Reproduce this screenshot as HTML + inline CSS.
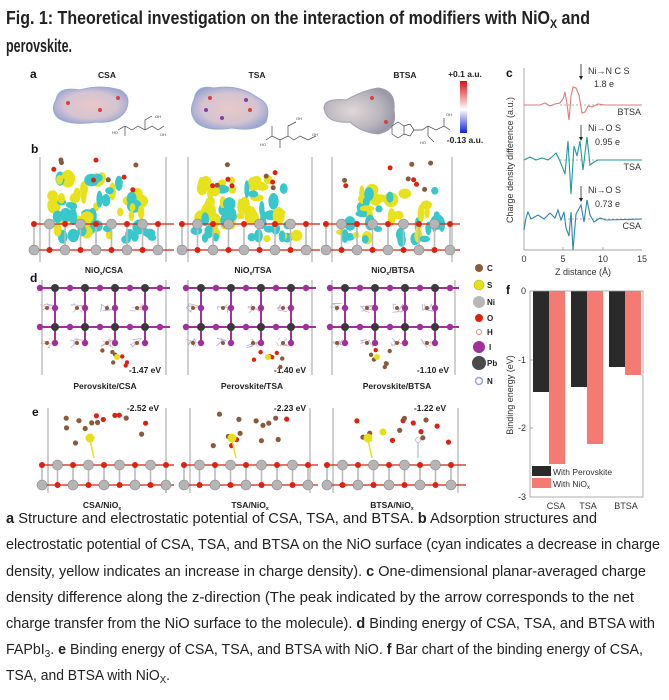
<!DOCTYPE html>
<html><head><meta charset="utf-8"><style>
html,body{margin:0;padding:0;background:#fff;width:669px;height:700px;overflow:hidden}
svg{display:block}
.t{font-family:"Liberation Sans",sans-serif}
.s{font-family:"Liberation Sans",sans-serif}
</style></head><body>
<svg id="s" width="669" height="700" viewBox="0 0 669 700" xmlns="http://www.w3.org/2000/svg">
<defs>
<linearGradient id="cb" x1="0" y1="0" x2="0" y2="1"><stop offset="0" stop-color="#e01010"/><stop offset="0.55" stop-color="#ffffff"/><stop offset="1" stop-color="#1020e0"/></linearGradient>
<radialGradient id="blob" cx="0.5" cy="0.5" r="0.6"><stop offset="0" stop-color="#e9c8c8"/><stop offset="0.6" stop-color="#d4c4d2"/><stop offset="1" stop-color="#8f9fd0"/></radialGradient>
<radialGradient id="blob2" cx="0.4" cy="0.5" r="0.6"><stop offset="0" stop-color="#e0d8d8"/><stop offset="0.7" stop-color="#b8b4bc"/><stop offset="1" stop-color="#9a9aa8"/></radialGradient>
</defs>
<!-- Title -->
<text class="s" x="6" y="24" font-size="18" font-weight="bold" fill="#222" textLength="584" lengthAdjust="spacingAndGlyphs">Fig. 1: Theoretical investigation on the interaction of modifiers with NiO<tspan font-size="12" dy="4">X</tspan><tspan dy="-4"> and</tspan></text>
<text class="s" x="6" y="52" font-size="18" font-weight="bold" fill="#222" textLength="66" lengthAdjust="spacingAndGlyphs">perovskite.</text>

<g class="t" font-weight="bold" fill="#111" font-size="12">
<text x="30" y="78">a</text><text x="31" y="153">b</text><text x="30" y="282">d</text><text x="32" y="416">e</text>
<text x="506" y="77">c</text><text x="506" y="294">f</text>
</g>
<g class="t" font-weight="bold" fill="#222" font-size="8.5" text-anchor="middle">
<text x="107" y="78">CSA</text><text x="257" y="78">TSA</text><text x="405" y="78">BTSA</text>
<text x="465" y="77">+0.1 a.u.</text><text x="465" y="143">-0.13 a.u.</text>
<text x="104" y="273">NiO<tspan font-size="5" dy="2">x</tspan><tspan dy="-2">/CSA</tspan></text>
<text x="253" y="273">NiO<tspan font-size="5" dy="2">x</tspan><tspan dy="-2">/TSA</tspan></text>
<text x="393" y="273">NiO<tspan font-size="5" dy="2">x</tspan><tspan dy="-2">/BTSA</tspan></text>
<text x="105" y="389">Perovskite/CSA</text><text x="252" y="389">Perovskite/TSA</text><text x="397" y="389">Perovskite/BTSA</text>
<text x="102" y="508">CSA/NiO<tspan font-size="5" dy="2">x</tspan></text>
<text x="250" y="508">TSA/NiO<tspan font-size="5" dy="2">x</tspan></text>
<text x="392" y="508">BTSA/NiO<tspan font-size="5" dy="2">x</tspan></text>
<text x="145" y="373">-1.47 eV</text><text x="290" y="373">-1.40 eV</text><text x="433" y="373">-1.10 eV</text>
<text x="143" y="411">-2.52 eV</text><text x="290" y="411">-2.23 eV</text><text x="430" y="411">-1.22 eV</text>
</g>
<rect x="460" y="81" width="7" height="52" fill="url(#cb)"/>

<path d="M56 100 Q58 86 80 90 Q100 84 120 90 Q132 96 126 110 Q118 124 96 122 Q70 126 58 118 Q50 110 56 100Z" fill="url(#blob)" stroke="#9aa8d8" stroke-width="1"/>
<path d="M194 100 Q196 84 214 88 Q240 84 258 98 Q272 104 266 122 Q256 132 232 128 Q206 132 196 122 Q188 112 194 100Z" fill="url(#blob)" stroke="#9aa8d8" stroke-width="1"/>
<path d="M324 108 Q324 98 346 100 Q364 90 378 88 Q396 90 394 110 Q398 130 378 134 Q360 132 350 122 Q326 124 324 108Z" fill="url(#blob2)" stroke="#a0a0b0" stroke-width="1"/>
<g fill="#d84040"><circle cx="68" cy="103" r="2"/><circle cx="100" cy="110" r="2"/><circle cx="118" cy="98" r="2"/><circle cx="210" cy="98" r="2"/><circle cx="250" cy="110" r="2"/><circle cx="372" cy="98" r="2"/><circle cx="386" cy="122" r="2"/></g>
<g fill="#8040a0"><circle cx="206" cy="110" r="2"/><circle cx="246" cy="100" r="2"/><circle cx="222" cy="118" r="2"/></g>
<g stroke="#444" stroke-width="0.7" fill="none">
<polyline points="118,130 125,126 132,130 138,126 145,130 152,126 158,130 164,126"/><polyline points="145,130 145,120 152,116"/><polyline points="125,126 125,136"/>
<polyline points="266,140 272,136 280,140 288,136 294,140 300,136 308,140 316,136"/><polyline points="280,140 280,148"/><polyline points="288,136 288,126 296,122"/><polyline points="272,136 272,126"/>
<polygon points="392,126 398,122 404,126 404,134 398,138 392,134"/><polyline points="404,126 410,124 414,130 410,136 404,134"/><polyline points="414,130 422,130 428,126 436,130 444,126 450,130"/><polyline points="428,126 428,136 434,142"/><polyline points="444,126 444,118"/>
</g>
<g class="t" font-size="4" fill="#444"><text x="112" y="134">HO</text><text x="155" y="118">OH</text><text x="160" y="136">OH</text><text x="260" y="146">HO</text><text x="312" y="136">OH</text><text x="296" y="120">OH</text><text x="446" y="116">OH</text><text x="420" y="144">HO</text></g>

<g id="gen"></g>

<g>
<circle cx="479" cy="268" r="4" fill="#8b5a3c"/><circle cx="479" cy="285" r="5" fill="#e6e01a" stroke="#aa0" stroke-width=".5"/>
<circle cx="479" cy="302" r="6" fill="#b8b8b8"/><circle cx="479" cy="318" r="4" fill="#e02010"/>
<circle cx="479" cy="332" r="2.5" fill="#fff" stroke="#d88" stroke-width="1"/><circle cx="479" cy="347" r="6" fill="#a0309a"/>
<circle cx="479" cy="363" r="7" fill="#4a4a4a"/><circle cx="479" cy="381" r="3.5" fill="#fff" stroke="#9aa4d8" stroke-width="1.5"/>
</g>
<g class="t" font-size="8" font-weight="bold" fill="#222">
<text x="487" y="271">C</text><text x="487" y="288">S</text><text x="487" y="305">Ni</text><text x="487" y="321">O</text><text x="487" y="335">H</text><text x="489" y="350">I</text><text x="487" y="366">Pb</text><text x="487" y="384">N</text>
</g>

<g stroke="#888" stroke-width="0.7" fill="none"><polyline points="524,68 524,250 642,250"/>
<line x1="563" y1="250" x2="563" y2="247"/><line x1="603" y1="250" x2="603" y2="247"/>
<g stroke-dasharray="2,2" stroke="#999"><line x1="560" y1="105" x2="642" y2="105"/><line x1="560" y1="160" x2="642" y2="160"/><line x1="560" y1="219" x2="642" y2="219"/></g></g>
<polyline fill="none" stroke="#e07b7b" stroke-width="1.1" points="524,105 540,105 545,103 550,106 555,104 560,103 563,99 565,92 567,104 569,120 571,96 573,87 576,88 579,95 582,113 585,112 588,106 592,107 598,104 605,105 642,105"/>
<polyline fill="none" stroke="#1f9a98" stroke-width="1.1" points="524,160 530,157 536,160 542,158 548,160 553,156 556,153 559,159 562,166 565,174 568,141 571,194 574,146 577,156 580,141 583,170 587,137 590,165 594,162 598,160 642,160"/>
<polyline fill="none" stroke="#2b86ad" stroke-width="1.1" points="524,230 526,218 528,212 531,219 538,215 544,219 550,213 555,218 558,210 561,220 564,212 566,228 569,236 571,212 573,250 576,214 581,205 584,222 587,200 590,215 594,222 600,218 606,220 642,219"/>
<g stroke="#222" stroke-width="0.8"><line x1="581" y1="64" x2="581" y2="78"/><line x1="581" y1="125" x2="581" y2="139"/><line x1="581" y1="186" x2="581" y2="200"/></g>
<g fill="#222"><path d="M579 76 L583 76 L581 80Z"/><path d="M579 137 L583 137 L581 141Z"/><path d="M579 198 L583 198 L581 202Z"/></g>
<g class="t" font-size="9" fill="#333">
<text x="588" y="74">Ni→N C S</text><text x="594" y="87">1.8 e</text>
<text x="588" y="131">Ni→O S</text><text x="595" y="145">0.95 e</text>
<text x="588" y="193">Ni→O S</text><text x="595" y="207">0.73 e</text>
<text x="641" y="115" text-anchor="end">BTSA</text><text x="641" y="170" text-anchor="end">TSA</text><text x="641" y="229" text-anchor="end">CSA</text>
<text x="524" y="262" text-anchor="middle">0</text><text x="563" y="262" text-anchor="middle">5</text><text x="603" y="262" text-anchor="middle">10</text><text x="642" y="262" text-anchor="middle">15</text>
<text x="583" y="275" text-anchor="middle">Z distance (Å)</text>
<text transform="translate(513,160) rotate(-90)" text-anchor="middle">Charge density difference (a.u.)</text>
</g>

<rect x="533" y="291" width="16" height="101" fill="#2a2a2a"/><rect x="549" y="291" width="16" height="173" fill="#f47a72"/>
<rect x="571" y="291" width="16" height="96" fill="#2a2a2a"/><rect x="587" y="291" width="16" height="153" fill="#f47a72"/>
<rect x="609" y="291" width="16" height="76" fill="#2a2a2a"/><rect x="625" y="291" width="16" height="84" fill="#f47a72"/>
<rect x="530" y="291" width="113" height="206" fill="none" stroke="#999" stroke-width="0.8"/>
<rect x="532" y="466" width="19" height="10" fill="#2a2a2a"/><rect x="532" y="478" width="19" height="10" fill="#f47a72"/>
<g stroke="#999" stroke-width="0.8"><line x1="530" y1="360" x2="533" y2="360"/><line x1="530" y1="428" x2="533" y2="428"/></g>
<g class="t" font-size="9" fill="#333">
<text x="526" y="294" text-anchor="end">0</text><text x="526" y="363" text-anchor="end">-1</text><text x="526" y="431" text-anchor="end">-2</text><text x="526" y="500" text-anchor="end">-3</text>
<text x="556" y="509" text-anchor="middle">CSA</text><text x="588" y="509" text-anchor="middle">TSA</text><text x="626" y="509" text-anchor="middle">BTSA</text>
<text x="553" y="475" font-size="8.5">With Perovskite</text><text x="553" y="487" font-size="8.5">With NiO<tspan font-size="6" dy="2">x</tspan></text>
<text transform="translate(513,395) rotate(-90)" text-anchor="middle">Binding energy (eV)</text>
</g>

<g class="s" font-size="14.5" fill="#222">
<text x="6" y="523" textLength="591" lengthAdjust="spacingAndGlyphs"><tspan font-weight="bold">a</tspan> Structure and electrostatic potential of CSA, TSA, and BTSA. <tspan font-weight="bold">b</tspan> Adsorption structures and</text>
<text x="6" y="549" textLength="654" lengthAdjust="spacingAndGlyphs">electrostatic potential of CSA, TSA, and BTSA on the NiO surface (cyan indicates a decrease in charge</text>
<text x="6" y="576" textLength="640" lengthAdjust="spacingAndGlyphs">density, yellow indicates an increase in charge density). <tspan font-weight="bold">c</tspan> One-dimensional planar-averaged charge</text>
<text x="6" y="602" textLength="628" lengthAdjust="spacingAndGlyphs">density difference along the z-direction (The peak indicated by the arrow corresponds to the net</text>
<text x="6" y="628" textLength="649" lengthAdjust="spacingAndGlyphs">charge transfer from the NiO surface to the molecule). <tspan font-weight="bold">d</tspan> Binding energy of CSA, TSA, and BTSA with</text>
<text x="6" y="654" textLength="637" lengthAdjust="spacingAndGlyphs">FAPbI<tspan font-size="10" dy="3">3</tspan><tspan dy="-3">. </tspan><tspan font-weight="bold">e</tspan> Binding energy of CSA, TSA, and BTSA with NiO. <tspan font-weight="bold">f</tspan> Bar chart of the binding energy of CSA,</text>
<text x="6" y="680" textLength="164" lengthAdjust="spacingAndGlyphs">TSA, and BTSA with NiO<tspan font-size="10" dy="3">X</tspan><tspan dy="-3">.</tspan></text>
</g>
</svg>
<script>
(function(){
var g=document.getElementById('gen'),h='';
function c(x,y,r,f,s){h+='<circle cx="'+x.toFixed(1)+'" cy="'+y.toFixed(1)+'" r="'+r+'" fill="'+f+'"'+(s?' stroke="'+s+'" stroke-width="0.6"':'')+'/>';}
function l(x1,y1,x2,y2,col,w){h+='<line x1="'+x1.toFixed(1)+'" y1="'+y1.toFixed(1)+'" x2="'+x2.toFixed(1)+'" y2="'+y2.toFixed(1)+'" stroke="'+col+'" stroke-width="'+(w||1.5)+'"/>';}
function e(x,y,rx,ry,f){h+='<ellipse cx="'+x.toFixed(1)+'" cy="'+y.toFixed(1)+'" rx="'+rx.toFixed(1)+'" ry="'+ry.toFixed(1)+'" fill="'+f+'"/>';}
var seed=7;function R(){seed=(seed*9301+49297)%233280;return seed/233280;}
function frame(x1,x2,y1,y2){l(x1,y1,x1,y2,'#777',0.7);l(x2,y1,x2,y2,'#777',0.7);}
function nio(x1,x2,yt,yb){
 for(var x=x1-6;x<=x2+6;x+=15.5){l(x,yt,x,yb,'#bbb',1.6);}
 l(x1-8,yt,x2+8,yt,'#d02010',1.2);l(x1-8,yb,x2+8,yb,'#d02010',1.2);
 var i=0;for(var x=x1-6;x<=x2+6;x+=15.5,i++){
  if(i%2==0){c(x,yt,3,'#e02010');c(x,yb,5,'#b5b5b5','#888');}else{c(x,yt,5,'#b5b5b5','#888');c(x,yb,3,'#e02010');}
 }}
var B=[[40,166],[188,312],[332,452]];
B.forEach(function(p,k){frame(p[0],p[1],157,262);
 var n=k==2?30:50;
 for(var i=0;i<n;i++){var x=p[0]+12+R()*(k==2?(p[1]-p[0]-20):90),y=(k==2?188:176)+R()*(k==2?40:55);
  e(x,y,2.5+R()*5,3+R()*6,R()<0.5?'#e8e21c':'#38c8cc');}
 for(var i=0;i<14;i++){var x=p[0]+8+R()*(p[1]-p[0]-16);e(x,228+R()*12,3+R()*3,3+R()*4,R()<0.6?'#38c8cc':'#e8e21c');}
 nio(p[0],p[1],224,250);
 for(var i=0;i<9;i++){var x=p[0]+12+R()*(p[1]-p[0]-30),y=160+R()*30;c(x,y,2.5,R()<0.5?'#8b5a3c':'#e02010');}
});
var D=[[42,166],[188,312],[332,455]];
D.forEach(function(p,k){frame(p[0],p[1],280,375);
 for(var j=0;j<2;j++){var yy=[308,343][j];for(var x=p[0]+5;x<p[1];x+=30){for(var q=0;q<6;q++){l(x+R()*14-7,yy+R()*10-5,x+R()*14-7,yy+R()*10-5,R()<0.5?'#aab0d8':'#d8b8b8',0.8);}c(x,yy,2,'#8b5a3c');}}
 l(p[0]-4,288,p[1]+4,288,'#a0309a',2);l(p[0]-4,327,p[1]+4,327,'#a0309a',2);
 var i=0;for(var x=p[0]-2;x<=p[1]+4;x+=15,i++){if(i%2==1){l(x,288,x,343,'#a0309a',2);}}
 i=0;for(var x=p[0]-2;x<=p[1]+4;x+=15,i++){
  if(i%2==1){c(x,288,4,'#3a3a3a');c(x,327,4,'#3a3a3a');c(x,308,3.2,'#a0309a');c(x,343,3.2,'#a0309a');}else{c(x,288,3.2,'#a0309a');c(x,327,3.2,'#a0309a');}
 }
 var mx=[p[0]+70,p[0]+75,p[0]+40][k];
 for(var i=0;i<7;i++){var x=mx+R()*30-10,y=350+R()*18;c(x,y,2.2,R()<0.5?'#8b5a3c':'#e02010');}
 c(mx+5,357,3,'#e6e01a');
});
var E=[[48,166],[190,310],[333,458]];
E.forEach(function(p,k){frame(p[0],p[1],408,493);
 nio(p[0],p[1],465,485);
 for(var i=0;i<14;i++){var x=p[0]+18+R()*(k==2?100:80),y=414+R()*32;c(x,y,2.6,R()<0.6?'#8b5a3c':'#e02010');}
 var sx=p[0]+(k==2?35:42);l(sx,440,sx+4,458,'#e6e01a',1.5);c(sx,438,4.5,'#e6e01a');
 if(k==2){c(sx+15,432,3.5,'#e6e01a');c(sx+50,440,2.5,'#fff','#9aa4d8');l(sx+50,442,sx+50,458,'#bbc',1.2);}
});
g.innerHTML=h;
})();
</script>
</body></html>
